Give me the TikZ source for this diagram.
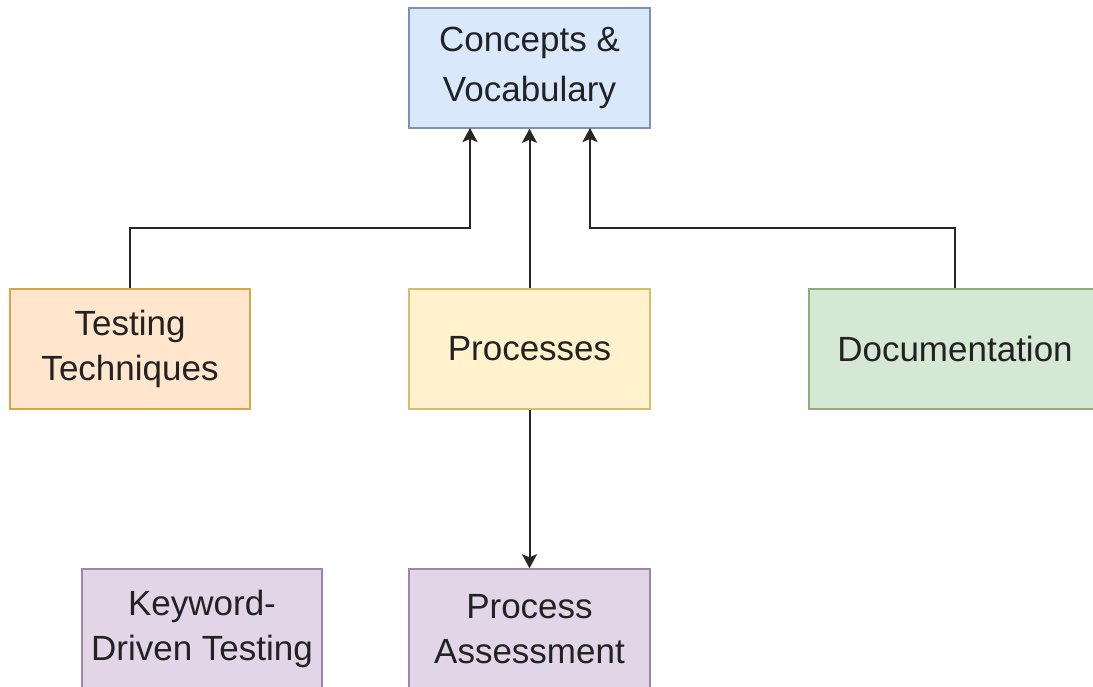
\documentclass[tikz,border=0pt]{standalone}
\usepackage{fontspec}
\setmainfont{Liberation Sans}
\usetikzlibrary{arrows.meta}
\definecolor{bfill}{HTML}{DAE8FC}\definecolor{bdraw}{HTML}{7A92B5}
\definecolor{ofill}{HTML}{FFE6CC}\definecolor{odraw}{HTML}{D4A74A}
\definecolor{yfill}{HTML}{FFF2CC}\definecolor{ydraw}{HTML}{D6BE70}
\definecolor{gfill}{HTML}{D5E8D4}\definecolor{gdraw}{HTML}{8DAF7E}
\definecolor{pfill}{HTML}{E1D5E7}\definecolor{pdraw}{HTML}{9D86A8}
\definecolor{txt}{HTML}{222222}
\tikzset{
  box/.style={draw, line width=1.5pt, minimum height=120pt, inner sep=0pt, align=center,
    text=txt, font=\fontsize{35}{45}\selectfont},
  conn/.style={line width=2pt, draw=black!85, -{Stealth[length=14pt,width=15pt,inset=3pt]}},
}
\begin{document}
\begin{tikzpicture}[x=1pt,y=-1pt]
\useasboundingbox (0,0) rectangle (1093,686);
\clip (0,0) rectangle (1093,686);
\fill[white] (0,0) rectangle (1093,686);
\node[box, fill=bfill, draw=bdraw, minimum width=241pt, font=\fontsize{35}{50}\selectfont] (cv) at (529.5,68) {Concepts \&\\Vocabulary};
\node[box, fill=ofill, draw=odraw, minimum width=240pt] (tt) at (130,349) {Testing\\Techniques};
\node[box, fill=yfill, draw=ydraw, minimum width=241pt] (pr) at (529.5,349) {Processes};
\node[box, fill=gfill, draw=gdraw, minimum width=292pt] (doc) at (955,349) {Documentation};
\node[box, fill=pfill, draw=pdraw, minimum width=240pt] (kw) at (202,629) {Keyword-\\Driven Testing};
\node[box, fill=pfill, draw=pdraw, minimum width=241pt] (pa) at (529.5,629) {Process\\Assessment};
\coordinate (c1) at (470,128);
\coordinate (c2) at (590,128);
\draw[conn] (tt.north) |- (470,228) -- (c1);
\draw[conn] (pr.north) -- (cv.south);
\draw[conn] (doc.north) |- (590,228) -- (c2);
\draw[conn] (pr.south) -- (pa.north);
\end{tikzpicture}
\end{document}
